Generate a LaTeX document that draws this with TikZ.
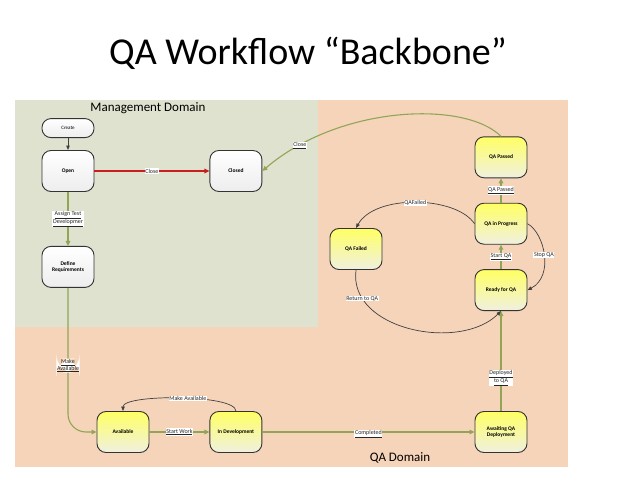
\documentclass[tikz,border=0pt]{standalone}
\usepackage{fontspec}
\setmainfont{Carlito}
\usepackage{xcolor}
\usepackage{tikz}
\usetikzlibrary{arrows.meta, positioning}
\definecolor{peach}{RGB}{246,212,186}
\definecolor{sage}{RGB}{222,226,207}
\definecolor{olive}{RGB}{145,165,85}
\definecolor{closered}{RGB}{200,30,30}
\definecolor{edgegray}{RGB}{64,64,64}
\definecolor{qayellow}{RGB}{255,255,100}
\definecolor{qapale}{RGB}{240,240,224}
\begin{document}
\begin{tikzpicture}[x=1pt, y=1pt, node distance=26pt,
  statebox/.style={draw=black!80, line width=0.9pt, rounded corners=9pt, minimum width=52pt, minimum height=41pt, inner sep=1pt, align=center, font=\fontsize{5.5}{6.5}\selectfont\bfseries},
  mgmt/.style={statebox, top color=white, bottom color=black!7},
  qa/.style={statebox, top color=qayellow, bottom color=qapale},
  lbl/.style={fill=white, inner sep=0.6pt, align=center, text=black!85, font=\fontsize{6}{6.5}\selectfont},
  flow/.style={draw=olive, line width=1.1pt, -{Triangle[length=5pt,width=4.5pt]}},
  loopline/.style={draw=edgegray, line width=0.7pt, -{Triangle[length=4.5pt,width=3.5pt]}}]
\useasboundingbox (0,0) rectangle (638,-479);
% domains
\fill[peach] (15,-100) rectangle (568,-467);
\fill[sage] (15,-100) rectangle (318,-327);
\node (title) [anchor=base, font=\fontsize{38}{40}\selectfont] at (308,-64) {QA Workflow “Backbone”};
\node (mgmtname) [anchor=base, font=\fontsize{13}{14}\selectfont] at (148,-111) {Management Domain};
\node (qaname) [anchor=base, font=\fontsize{13}{14}\selectfont] at (400,-461) {QA Domain};

% management states
\node (open) [mgmt] at (68,-171) {Open};
\node (create) [above=12pt of open, mgmt, minimum height=19pt, font=\fontsize{5}{6}\selectfont] {Create};
\node (closed) [right=115pt of open, mgmt] {Closed};
\node (define) [below=54pt of open, mgmt] {Define\\Requirements};

% qa states
\node (avail) [qa] at (123,-432) {Available};
\node (indev) [right=60pt of avail, qa] {In Development};
\node (await) [qa] at (501,-432) {Awaiting QA\\Deployment};
\node (ready) [above=100pt of await, qa] {Ready for QA};
\node (progress) [above=24.5pt of ready, qa] {QA in Progress};
\node (passed) [above=24.5pt of progress, qa] {QA Passed};
\node (failed) [qa] at (356,-249) {QA Failed};

% transitions
\draw[loopline, line width=1pt] (create) -- (open);
\draw[draw=closered, line width=1.1pt, -{Triangle[length=5pt,width=4.5pt]}] (open) -- node[lbl] {Close} (closed);
\draw[flow] (open) -- node[lbl] {\underline{Assign Test}\\\underline{Developmer}} (define);
\draw[flow, rounded corners=18pt] (define.south) |- node[lbl, pos=0.27] {\underline{Make}\\\underline{Available}} (avail.west);
\draw[flow] (avail) -- node[lbl] {\underline{Start Work}} (indev);
\draw[loopline] (indev.north) .. controls +(0,17) and +(0,17) .. node[lbl, pos=0.45] {Make Available} (avail.north);
\draw[flow] (indev) -- node[lbl, yshift=-2pt] {\underline{Completed}} (await);
\draw[flow] (await) -- node[lbl, pos=0.33] {\underline{Deployed}\\\underline{to QA}} (ready);
\draw[flow] (ready) -- node[lbl] {\underline{Start QA}} (progress);
\draw[flow] (progress) -- node[lbl] {\underline{QA Passed}} (passed);
\draw[flow] (passed.north) .. controls +(-36,36) and +(77,66) .. node[lbl, pos=0.85] {\underline{Close}} (closed.east);
\draw[loopline] (progress.west) .. controls +(-19,28) and +(19,34) .. node[lbl] {QAFailed} (failed.north);
\draw[loopline] (progress.east) .. controls +(17,-9) and +(27,14) .. node[lbl] {Stop QA} (ready.east);
\draw[loopline] (failed.south) .. controls +(-8,-60) and +(-41,-41) .. node[lbl, pos=0.18] {Return to QA} (ready.south);
\end{tikzpicture}
\end{document}
